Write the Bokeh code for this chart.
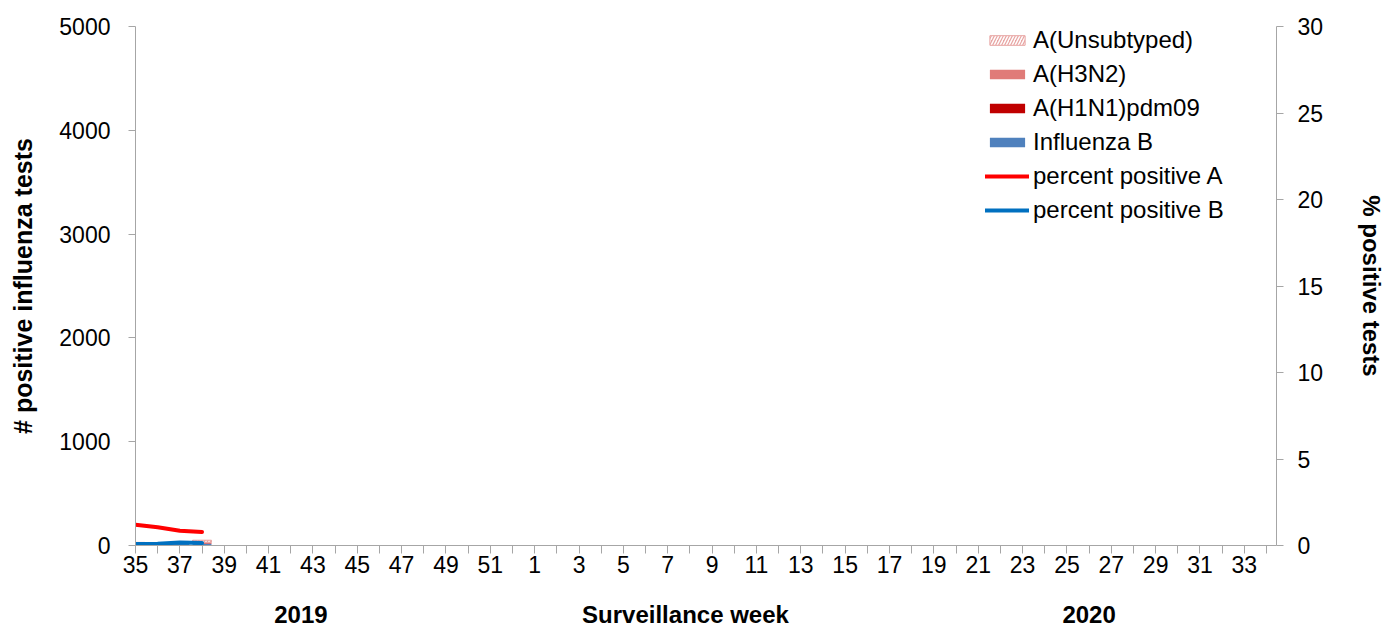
from bokeh.plotting import figure
from bokeh.models import (Range1d, LinearAxis, FixedTicker, Legend, LegendItem,
                          ColumnDataSource)
from bokeh.embed import file_html
from bokeh.resources import INLINE

# ---- data ----
weeks = [str(w) for w in list(range(35, 53)) + list(range(1, 35))]
data_weeks = ["35", "36", "37", "38"]
a_unsubtyped = [12, 10, 14, 20]
a_h3n2 = [6, 5, 6, 10]
a_h1n1 = [2, 2, 3, 3]
influenza_b = [10, 12, 16, 18]
pct_pos_a = [1.2, 1.05, 0.85, 0.78]
pct_pos_b = [0.08, 0.1, 0.18, 0.15]
years = ["2019", "2020"]
x_title = "Surveillance week"

FONT = "Liberation Sans"
AXIS_COL = "#a6a6a6"

idx = {w: i for i, w in enumerate(weeks)}
xs = [idx[w] for w in data_weeks]

p = figure(width=1388, height=630, output_backend="svg", toolbar_location=None,
           x_range=Range1d(0, 51.45), y_range=Range1d(0, 5000),
           min_border_left=135, min_border_right=108, min_border_top=26,
           min_border_bottom=85)
p.extra_y_ranges = {"pct": Range1d(0, 30)}
p.grid.visible = False
p.outline_line_color = None
p.background_fill_color = "white"

# stacked bars
b0 = [0] * 4
b1 = influenza_b
b2 = [b1[i] + a_h1n1[i] for i in range(4)]
b3 = [b2[i] + a_h3n2[i] for i in range(4)]
b4 = [b3[i] + a_unsubtyped[i] for i in range(4)]
src = ColumnDataSource(dict(x=xs, b0=b0, b1=b1, b2=b2, b3=b3, b4=b4,
                            pa=pct_pos_a, pb=pct_pos_b))
W = 0.85
r_b = p.vbar(x="x", bottom="b0", top="b1", width=W, source=src,
             fill_color="#4F81BD", line_color=None)
r_h1 = p.vbar(x="x", bottom="b1", top="b2", width=W, source=src,
              fill_color="#C00000", line_color=None)
r_h3 = p.vbar(x="x", bottom="b2", top="b3", width=W, source=src,
              fill_color="#E07B78", line_color=None)
r_un = p.vbar(x="x", bottom="b3", top="b4", width=W, source=src,
              fill_color="#E8A5A3", line_color="#E8A5A3",
              hatch_pattern="right_diagonal_line", hatch_color="white",
              hatch_scale=6, hatch_weight=1.5)
r_pa = p.line(x="x", y="pa", source=src, line_color="#FF0000", line_width=4,
              y_range_name="pct", line_cap="round")
r_pb = p.line(x="x", y="pb", source=src, line_color="#0070C0", line_width=4,
              y_range_name="pct", line_cap="round")

# axes styling
def style(ax):
    ax.axis_line_color = AXIS_COL
    ax.major_tick_line_color = AXIS_COL
    ax.minor_tick_line_color = AXIS_COL
    ax.major_label_text_font = FONT
    ax.major_label_text_font_size = "23px"
    ax.major_label_text_color = "#000000"
    ax.axis_label_text_font = FONT
    ax.axis_label_text_font_style = "bold"
    ax.axis_label_text_font_size = "25px"
    ax.axis_label_text_color = "#000000"

xa = p.xaxis[0]
style(xa)
xa.ticker = FixedTicker(ticks=list(range(0, 52, 2)), minor_ticks=list(range(1, 52, 2)))
xa.major_label_overrides = {i: weeks[i] for i in range(0, 52, 2)}
xa.major_tick_in = 0
xa.major_tick_out = 8
xa.minor_tick_in = 0
xa.minor_tick_out = 8
xa.major_label_standoff = 2

# second row below the week numbers: years and the x title
pos = {years[0]: 7.46, x_title: 24.8, years[1]: 43.0}
xa2 = LinearAxis(ticker=FixedTicker(ticks=list(pos.values()), minor_ticks=[]))
xa2.major_label_overrides = {v: k for k, v in pos.items()}
xa2.axis_line_color = None
xa2.major_tick_line_color = None
xa2.minor_tick_line_color = None
xa2.major_tick_in = 0
xa2.major_tick_out = 0
xa2.major_label_standoff = 25
xa2.major_label_text_font = FONT
xa2.major_label_text_font_style = "bold"
xa2.major_label_text_font_size = "24px"
xa2.major_label_text_color = "black"
p.add_layout(xa2, "below")

ya = p.yaxis[0]
style(ya)
ya.ticker = FixedTicker(ticks=[0, 1000, 2000, 3000, 4000, 5000], minor_ticks=[])
ya.major_tick_in = 0
ya.major_tick_out = 7
ya.minor_tick_out = 0
ya.minor_tick_in = 0
ya.major_label_standoff = 18
ya.axis_label = "# positive influenza tests"
ya.axis_label_standoff = 19

ra = LinearAxis(y_range_name="pct")
style(ra)
ra.axis_label_text_font_size = "24px"
ra.ticker = FixedTicker(ticks=[0, 5, 10, 15, 20, 25, 30], minor_ticks=[])
ra.major_tick_in = 0
ra.major_tick_out = 7
ra.minor_tick_in = 0
ra.minor_tick_out = 0
ra.major_label_standoff = 14
ra.axis_label = "% positive tests"
ra.axis_label_standoff = 32
p.add_layout(ra, "right")

legend = Legend(items=[
    LegendItem(label="A(Unsubtyped)", renderers=[r_un]),
    LegendItem(label="A(H3N2)", renderers=[r_h3]),
    LegendItem(label="A(H1N1)pdm09", renderers=[r_h1]),
    LegendItem(label="Influenza B", renderers=[r_b]),
    LegendItem(label="percent positive A", renderers=[r_pa]),
    LegendItem(label="percent positive B", renderers=[r_pb]),
], location=(850, 321))
legend.label_text_font = FONT
legend.label_text_font_size = "24px"
legend.label_text_color = "black"
legend.label_height = 28
legend.glyph_height = 12
legend.glyph_width = 44
legend.spacing = 6
legend.padding = 0
legend.margin = 0
legend.label_standoff = 4
legend.border_line_color = None
legend.background_fill_alpha = 0
p.add_layout(legend, "center")

open("out.html", "w").write(file_html(p, INLINE))
